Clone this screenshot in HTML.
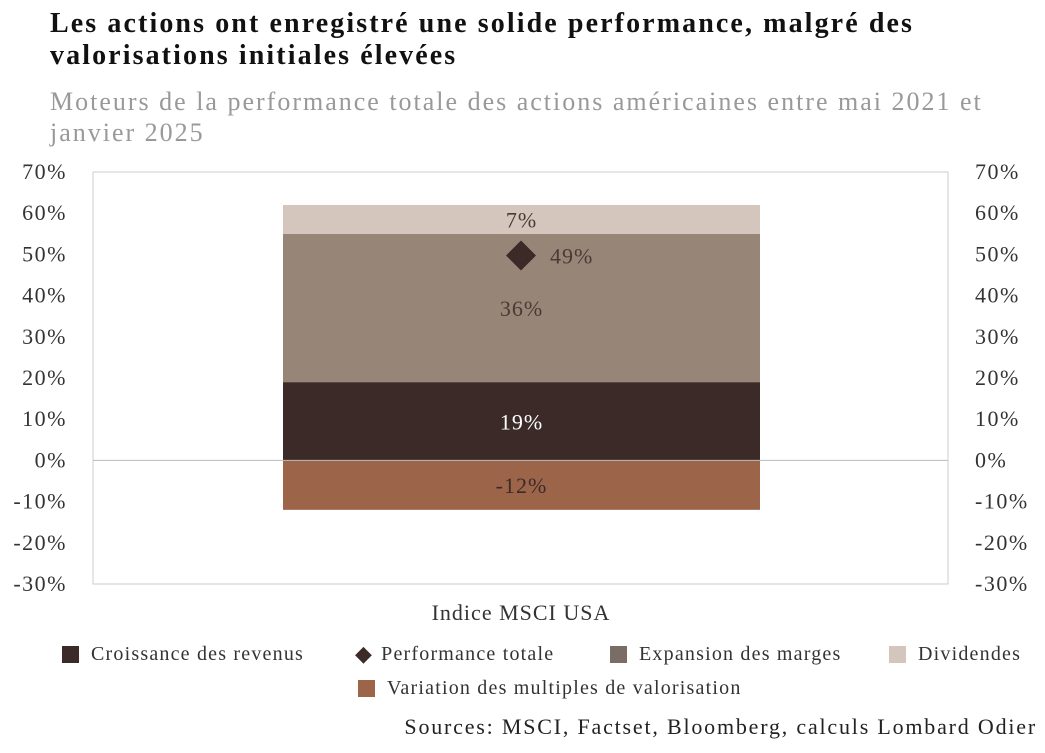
<!DOCTYPE html>
<html><head><meta charset="utf-8"><style>
body{margin:0;width:1045px;height:753px;background:#fff;font-family:"Liberation Serif",serif;overflow:hidden;position:relative}
.t{position:absolute;left:50px;top:8px;font-size:28px;letter-spacing:2.1px;font-weight:bold;color:#111;line-height:32px;white-space:nowrap}
.s{position:absolute;left:50px;top:86px;font-size:26px;letter-spacing:2px;color:#999;line-height:31px;white-space:nowrap}
.src{position:absolute;right:8px;top:714px;font-size:22px;letter-spacing:1.8px;color:#222;white-space:nowrap}
.lg{position:absolute;font-size:20px;letter-spacing:1.2px;color:#333;display:flex;align-items:center;white-space:nowrap}
.lg i{display:inline-block;width:17px;height:17px;margin-right:12px}
</style></head><body>
<div class="t">Les actions ont enregistré une solide performance, malgré des<br>valorisations initiales élevées</div>
<div class="s">Moteurs de la performance totale des actions américaines entre mai 2021 et<br>janvier 2025</div>
<svg id="c" width="1045" height="753" style="position:absolute;left:0;top:0"></svg>
<div class="lg" style="left:62px;top:643px"><i style="background:#3b2a28"></i>Croissance des revenus</div>
<div class="lg" style="left:355px;top:641px"><span style="font-size:22px;margin-right:8px;color:#3b2a28">◆</span>Performance totale</div>
<div class="lg" style="left:610px;top:643px"><i style="background:#7a6d66"></i>Expansion des marges</div>
<div class="lg" style="left:889px;top:643px"><i style="background:#d4c5bd"></i>Dividendes</div>
<div class="lg" style="left:358px;top:677px"><i style="background:#9c6549"></i>Variation des multiples de valorisation</div>
<div class="src">Sources: MSCI, Factset, Bloomberg, calculs Lombard Odier</div>
<script>
const ticks=[70,60,50,40,30,20,10,0,-10,-20,-30];
const segLabels=["Croissance des revenus","Expansion des marges","Dividendes","Variation des multiples"];
const segValues=[19,36,7,-12];
const segColors=["#3b2a28","#978577","#d4c5bd","#9c6549"];
const segText=["#fff","#4a3a35","#4a3a35","#3b2a28"];
const totalValue=49;
const ns="http://www.w3.org/2000/svg",svg=document.getElementById('c');
const X0=93,X1=948,Ytop=172,Ybot=584,vmax=70,vmin=-30;
const y=v=>Ytop+(vmax-v)*(Ybot-Ytop)/(vmax-vmin);
function mk(t,a,p){const e=document.createElementNS(ns,t);for(const k in a)e.setAttribute(k,a[k]);(p||svg).appendChild(e);return e;}
const fr=mk('rect',{x:X0,y:Ytop,width:X1-X0,height:Ybot-Ytop,fill:'none',stroke:'#ccc'});


ticks.forEach(v=>{
 const a=mk('text',{x:67,y:y(v)+7,'text-anchor':'end','font-size':22,'letter-spacing':1.5,fill:'#333','font-family':'Liberation Serif'});a.textContent=v+'%';
 
 
 const b=mk('text',{x:975,y:y(v)+7,'font-size':22,'letter-spacing':1.5,fill:'#333','font-family':'Liberation Serif'});b.textContent=v+'%';
 
 
});
const bx=283,bw=477;let pos=0,neg=0;
segValues.forEach((v,i)=>{
 let a,b;if(v>=0){a=pos;b=pos+v;pos=b;}else{a=neg;b=neg+v;neg=b;}
 const r=mk('rect',{x:bx,y:y(Math.max(a,b)),width:bw,height:Math.abs(y(a)-y(b)),fill:segColors[i]});
 
 
 const t=mk('text',{x:bx+bw/2,y:(y(a)+y(b))/2+8,'text-anchor':'middle','font-size':22,'letter-spacing':1,fill:segText[i],'font-family':'Liberation Serif'});t.textContent=v+'%';
 
 
});
const zl=mk('line',{x1:X0,x2:X1,y1:y(0),y2:y(0),stroke:'#bbb'});


const cx=521,cy=y(totalValue)-3;
const d=mk('polygon',{points:`${cx},${cy-15} ${cx+15},${cy} ${cx},${cy+15} ${cx-15},${cy}`,fill:'#3b2a28'});


const dl=mk('text',{x:550,y:cy+8,'font-size':22,'letter-spacing':1,fill:'#4a3a35','font-family':'Liberation Serif'});dl.textContent=totalValue+'%';


const xl=mk('text',{x:521,y:620,'text-anchor':'middle','font-size':22,'letter-spacing':1,fill:'#333','font-family':'Liberation Serif'});xl.textContent='Indice MSCI USA';


</script>
</body></html>
